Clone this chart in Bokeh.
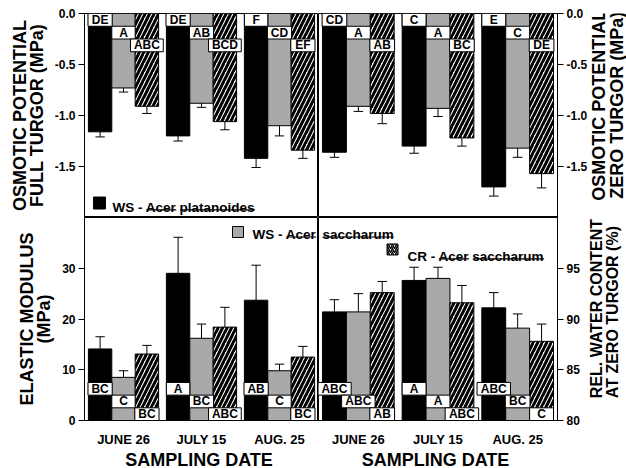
import numpy as np
from bokeh.plotting import figure
from bokeh.layouts import column, row
from bokeh.models import FixedTicker, PrintfTickFormatter, Range1d
from bokeh.core.properties import value
from bokeh.embed import file_html
from bokeh.resources import INLINE

# ---------------- data ----------------
dates = ["JUNE 26", "JULY 15", "AUG. 25"]
series = ["WS - Acer platanoides", "WS - Acer saccharum", "CR - Acer saccharum"]

# Osmotic potential at full turgor (MPa): mean and standard error
opft_mean = [[-1.16, -1.20, -1.42],   # WS - Acer platanoides
             [-0.73, -0.88, -1.10],   # WS - Acer saccharum
             [-0.91, -1.06, -1.34]]   # CR - Acer saccharum
opft_se = [[0.05, 0.05, 0.09],
           [0.04, 0.04, 0.10],
           [0.07, 0.08, 0.08]]
opft_letters = [["DE", "DE", "F"], ["A", "AB", "CD"], ["ABC", "BCD", "EF"]]

# Osmotic potential at zero turgor (MPa)
opzt_mean = [[-1.36, -1.30, -1.70],
             [-0.91, -0.93, -1.32],
             [-0.98, -1.22, -1.57]]
opzt_se = [[0.05, 0.07, 0.09],
           [0.05, 0.08, 0.09],
           [0.10, 0.08, 0.14]]
opzt_letters = [["CD", "C", "E"], ["A", "A", "C"], ["AB", "BC", "DE"]]

# Elastic modulus (MPa)
em_mean = [[14.1, 29.0, 23.7],
           [8.5, 16.2, 9.8],
           [13.1, 18.4, 12.5]]
em_se = [[2.4, 7.1, 6.9],
         [1.3, 2.8, 1.3],
         [1.7, 3.9, 2.1]]
em_letters = [["BC", "A", "AB"], ["C", "BC", "C"], ["BC", "ABC", "BC"]]

# Relative water content at zero turgor (%)
rwc_mean = [[90.7, 93.8, 91.1],
            [90.7, 94.0, 89.1],
            [92.6, 91.6, 87.8]]
rwc_se = [[1.2, 1.3, 1.5],
          [1.8, 1.1, 1.4],
          [1.1, 1.7, 1.7]]
rwc_letters = [["ABC", "A", "ABC"], ["ABC", "A", "BC"], ["AB", "ABC", "C"]]

osm_ticks = [0.0, -0.5, -1.0, -1.5]
em_ticks = [0, 10, 20, 30]
rwc_ticks = [80, 85, 90, 95]

# ---------------- styling ----------------
FONT = "Liberation Sans"
GRAY = "#a9a9a9"
STYLES = [
    dict(fill_color="black", line_color="black"),
    dict(fill_color=GRAY, line_color="black"),
    dict(fill_color="white", line_color="black", hatch_pattern="/",
         hatch_color="black", hatch_scale=9, hatch_weight=3),
]
OFFS = [-0.3, 0.0, 0.3]
BAR_W = 0.3


def make_fig(yr, fw, fh, left=0, right=0, top=0, bottom=0, yloc="left", xaxis=False):
    p = figure(x_range=Range1d(0, 3), y_range=yr, frame_width=fw, frame_height=fh,
               output_backend="svg", toolbar_location=None,
               y_axis_location=yloc, x_axis_location="below" if xaxis else None,
               min_border=0, min_border_left=left, min_border_right=right,
               min_border_top=top, min_border_bottom=bottom)
    p.outline_line_color = "black"
    p.outline_line_width = 1
    p.xgrid.visible = False
    p.ygrid.visible = False
    p.background_fill_color = "white"
    p.border_fill_color = "white"
    ax = p.yaxis[0]
    ax.major_tick_out = 6
    ax.major_tick_in = 0
    ax.minor_tick_line_color = None
    ax.axis_line_color = "black"
    ax.major_tick_line_color = "black"
    ax.major_label_text_font = FONT
    ax.major_label_text_font_style = "bold"
    ax.major_label_text_font_size = "12px"
    ax.major_label_text_color = "black"
    ax.major_label_standoff = 3
    ax.axis_label_text_font = FONT
    ax.axis_label_text_font_style = "bold"
    ax.axis_label_text_font_size = "18px"
    ax.axis_label_text_color = "black"
    ax.axis_label_text_line_height = 0.85
    ax.axis_label_standoff = 5
    if xaxis:
        xa = p.xaxis[0]
        xa.ticker = FixedTicker(ticks=[0.5, 1.5, 2.5])
        xa.major_label_overrides = {i + 0.5: d for i, d in enumerate(dates)}
        xa.major_tick_line_color = None
        xa.minor_tick_line_color = None
        xa.axis_line_color = "black"
        xa.major_label_text_font = FONT
        xa.major_label_text_font_style = "bold"
        xa.major_label_text_font_size = "13px"
        xa.major_label_text_color = "black"
        xa.major_label_text_line_height = 1.0
        xa.major_label_standoff = 5
        xa.axis_label = "SAMPLING  DATE"
        xa.axis_label_text_font = FONT
        xa.axis_label_text_font_style = "bold"
        xa.axis_label_text_font_size = "18px"
        xa.axis_label_text_color = "black"
        xa.axis_label_text_line_height = 1.0
        xa.axis_label_standoff = 0
    return p


def label_fig(fh, top, bottom, txt, ycen, size, align):
    # narrow text-only strip holding a right-hand axis title read bottom-to-top
    p = figure(x_range=Range1d(0, 1), y_range=Range1d(0, 1), frame_width=38, frame_height=fh,
               output_backend="svg", toolbar_location=None,
               x_axis_location=None, y_axis_location=None,
               min_border=0, min_border_top=top, min_border_bottom=bottom)
    p.outline_line_color = None
    p.background_fill_color = "white"
    p.border_fill_color = "white"
    for g in p.grid:
        g.visible = False
    p.text(x=[0.45], y=[ycen], text=[txt], angle=np.pi / 2, text_align=align,
           text_baseline="middle", text_font=value(FONT), text_font_style="bold",
           text_font_size=size, text_color="black", text_line_height=0.9)
    return p


def draw_panel(p, means, ses, letters, base, up, box_h):
    xc = np.arange(len(dates)) + 0.5
    for k in range(3):
        x = xc + OFFS[k]
        p.vbar(x=x, width=BAR_W, top=means[k], bottom=base, line_width=1, **STYLES[k])
    for k in range(3):
        x = xc + OFFS[k]
        level = (2 - k) if up else k
        yc = base + (level + 0.5) * box_h if up else base - (level + 0.5) * box_h
        widths = [max(BAR_W, 0.11 * len(t) + 0.09) for t in letters[k]]
        p.rect(x=x, y=[yc] * 3, width=widths, height=box_h,
               fill_color="white", line_color="black", line_width=1)
        p.text(x=x, y=[yc] * 3, text=letters[k], text_align="center",
               text_baseline="middle", text_font=value(FONT),
               text_font_style="bold", text_font_size="12px", text_color="black")
    for k in range(3):
        x = xc + OFFS[k]
        m = np.array(means[k])
        s = np.array(ses[k])
        end = m + s if up else m - s
        p.segment(x0=x, y0=m, x1=x, y1=end, line_color="black", line_width=1)
        p.segment(x0=x - 0.06, y0=end, x1=x + 0.06, y1=end, line_color="black", line_width=1)


def legend_text(p, x, y, txt):
    p.text(x=[x], y=[y], text=[txt], text_align="left", text_baseline="alphabetic",
           text_font=value(FONT), text_font_style="bold", text_font_size="13.5px",
           text_color="black")


# ---------------- figures ----------------
tl = make_fig(Range1d(-2, 0), 234, 204, left=84, top=13)
tr = make_fig(Range1d(-2, 0), 239, 204, right=30, top=13, yloc="right")
bl = make_fig(Range1d(0, 40), 234, 203, left=84, bottom=46, xaxis=True)
br = make_fig(Range1d(80, 100), 239, 203, right=30, bottom=46, yloc="right", xaxis=True)

for p in (tl, tr):
    p.yaxis[0].ticker = FixedTicker(ticks=osm_ticks)
    p.yaxis[0].formatter = PrintfTickFormatter(format="%.1f")
bl.yaxis[0].ticker = FixedTicker(ticks=em_ticks)
bl.yaxis[0].formatter = PrintfTickFormatter(format="%d")
br.yaxis[0].ticker = FixedTicker(ticks=rwc_ticks)
br.yaxis[0].formatter = PrintfTickFormatter(format="%d")

tl.yaxis[0].axis_label = "OSMOTIC POTENTIAL\nFULL TURGOR (MPa)"
bl.yaxis[0].axis_label = "ELASTIC MODULUS\n(MPa)"
trl = label_fig(204, 13, 0, "OSMOTIC POTENTIAL\nZERO TURGOR (MPa)", 0.55, "18px", "center")
brl = label_fig(203, 0, 46, "REL. WATER CONTENT\nAT ZERO TURGOR (%)", 0.11, "16px", "left")

draw_panel(tl, opft_mean, opft_se, opft_letters, 0.0, False, 0.125)
draw_panel(tr, opzt_mean, opzt_se, opzt_letters, 0.0, False, 0.125)
draw_panel(bl, em_mean, em_se, em_letters, 0.0, True, 2.5)
draw_panel(br, rwc_mean, rwc_se, rwc_letters, 80.0, True, 1.25)

# ---------------- legends ----------------
# WS - Acer platanoides (top-left panel)
tl.scatter(x=[0.192], y=[-1.858], marker="square", size=12, fill_color="black", line_color="black")
legend_text(tl, 0.359, -1.905, series[0])
tl.segment(x0=[0.792, 1.224], y0=[-1.926, -1.926], x1=[1.176, 2.186], y1=[-1.926, -1.926],
           line_color="black", line_width=1.2)

# WS - Acer saccharum (split across bottom panels)
ws_a, ws_b = series[1].rsplit(" ", 1)
bl.scatter(x=[1.968], y=[37.14], marker="square", size=11, fill_color=GRAY, line_color="black")
legend_text(bl, 2.154, 36.65, ws_a)
bl.segment(x0=[2.587], y0=[36.16], x1=[2.971], y1=[36.16], line_color="black", line_width=1.2)
legend_text(br, 0.050, 98.33, ws_b)
br.segment(x0=[0.050], y0=[98.08], x1=[0.945], y1=[98.08], line_color="black", line_width=1.2)

# CR - Acer saccharum (bottom-right panel)
br.scatter(x=[0.929], y=[96.85], marker="square", size=11, fill_color="white", line_color="black",
           hatch_pattern="/", hatch_color="black", hatch_scale=4, hatch_weight=1.5)
legend_text(br, 1.117, 96.19, series[2])
br.segment(x0=[1.511, 1.937], y0=[95.93, 95.93], x1=[1.888, 2.832], y1=[95.93, 95.93],
           line_color="black", line_width=1.2)

layout = column(row(tl, tr, trl), row(bl, br, brl))
open("out.html", "w").write(file_html(layout, INLINE))
